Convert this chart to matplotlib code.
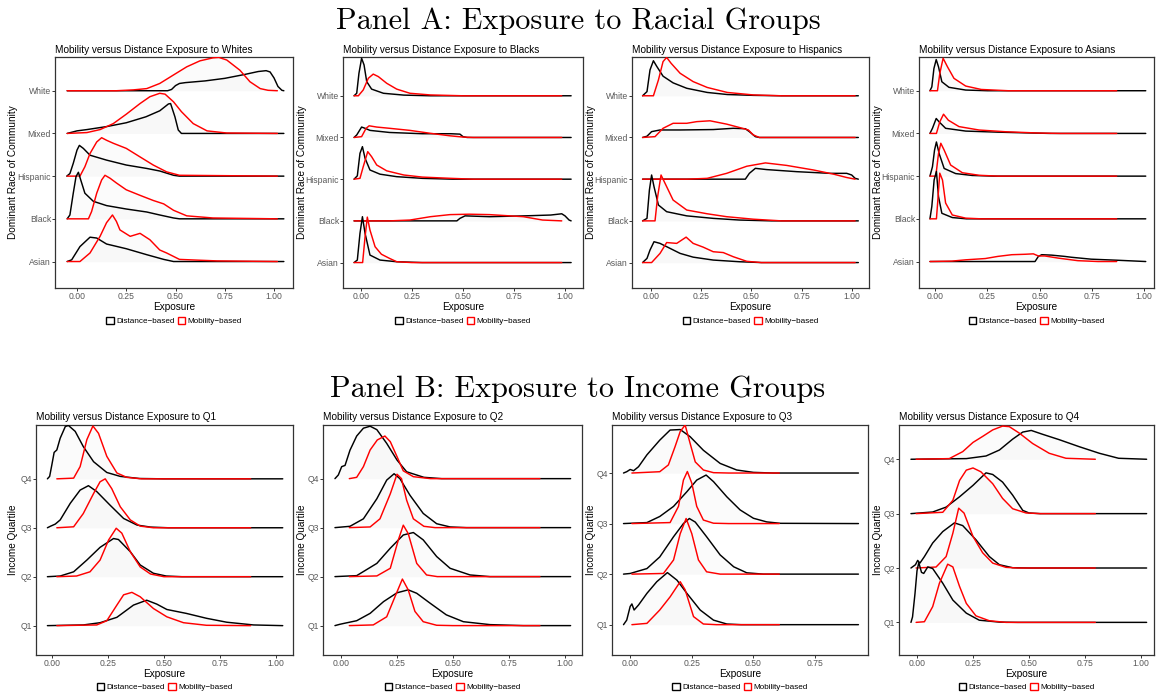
import matplotlib
matplotlib.use("Agg")
import matplotlib.pyplot as plt
from matplotlib.patches import Patch

plt.rcParams['font.family'] = ['Liberation Sans', 'DejaVu Sans']

# ---------------- data: (exposure, ridge height in row units) ----------------
RACE_ROWS = ['Asian', 'Black', 'Hispanic', 'Mixed', 'White']
QUART_ROWS = ['Q1', 'Q2', 'Q3', 'Q4']
X_TICKS = [0.0, 0.25, 0.5, 0.75, 1.0]
X_TICKS_Q3 = [0.0, 0.25, 0.5, 0.75]
LEGEND_LABELS = ['Distance\u2212based', 'Mobility\u2212based']

# Exposure to Whites
W_WHITE_D = [(-0.05,0),(0.46,0),(0.48,0.03),(0.50,0.12),(0.52,0.17),(0.55,0.19),(0.65,0.23),(0.75,0.29),(0.85,0.38),(0.92,0.45),(0.96,0.47),(0.98,0.44),(1.00,0.30),(1.02,0.10),(1.04,0.01),(1.05,0)]
W_WHITE_M = [(-0.05,0),(0.20,0),(0.286,0.02),(0.354,0.05),(0.42,0.17),(0.49,0.37),(0.557,0.56),(0.624,0.70),(0.69,0.77),(0.72,0.78),(0.76,0.72),(0.827,0.48),(0.878,0.21),(0.93,0.05),(0.97,0.01),(1.017,0)]
W_MIXED_D = [(-0.05,0),(0.0,0.06),(0.05,0.09),(0.15,0.16),(0.25,0.25),(0.35,0.39),(0.42,0.53),(0.464,0.69),(0.475,0.70),(0.497,0.39),(0.514,0.08),(0.53,0),(1.05,0)]
W_MIXED_M = [(-0.05,0),(0.05,0.02),(0.117,0.09),(0.184,0.23),(0.25,0.45),(0.32,0.70),(0.37,0.86),(0.42,0.94),(0.447,0.92),(0.49,0.74),(0.53,0.51),(0.59,0.23),(0.66,0.06),(0.76,0.01),(1.017,0)]
W_HISP_D = [(-0.052,0),(-0.036,0.06),(-0.019,0.30),(0.0,0.61),(0.012,0.72),(0.032,0.65),(0.066,0.49),(0.15,0.375),(0.25,0.26),(0.354,0.18),(0.42,0.12),(0.49,0.02),(0.52,0),(1.05,0)]
W_HISP_M = [(-0.05,0),(0.015,0),(0.04,0.22),(0.066,0.53),(0.10,0.80),(0.125,0.90),(0.15,0.84),(0.184,0.77),(0.25,0.65),(0.32,0.45),(0.387,0.26),(0.455,0.10),(0.52,0.02),(1.017,0)]
W_BLACK_D = [(-0.05,0),(-0.036,0.09),(-0.019,0.60),(-0.005,0.99),(0.007,1.09),(0.019,0.91),(0.04,0.60),(0.083,0.41),(0.15,0.31),(0.25,0.23),(0.354,0.16),(0.42,0.09),(0.49,0.02),(0.52,0),(1.05,0)]
W_BLACK_M = [(-0.05,0),(0.058,0),(0.074,0.17),(0.10,0.60),(0.125,0.91),(0.142,1.02),(0.168,0.95),(0.20,0.84),(0.25,0.68),(0.32,0.55),(0.387,0.43),(0.44,0.35),(0.49,0.20),(0.557,0.07),(0.69,0.02),(1.017,0)]
W_ASIAN_D = [(-0.05,0),(-0.027,0.04),(0.015,0.35),(0.066,0.57),(0.10,0.55),(0.15,0.41),(0.25,0.30),(0.354,0.16),(0.44,0.05),(0.49,0),(1.05,0)]
W_ASIAN_M = [(-0.05,0),(0.015,0),(0.066,0.20),(0.117,0.59),(0.15,0.91),(0.18,1.09),(0.20,0.94),(0.218,0.74),(0.27,0.59),(0.32,0.66),(0.37,0.51),(0.42,0.27),(0.455,0.20),(0.52,0.05),(0.625,0.03),(0.71,0.015),(1.017,0)]

# Exposure to Blacks
B_WHITE_D = [(-0.034,0),(-0.021,0.06),(-0.01,0.54),(0.003,0.90),(0.015,0.74),(0.028,0.34),(0.052,0.16),(0.11,0.06),(0.21,0.016),(0.34,0),(1.03,0)]
B_WHITE_M = [(-0.034,0),(-0.013,0),(0.011,0.14),(0.036,0.42),(0.06,0.52),(0.085,0.46),(0.126,0.30),(0.175,0.16),(0.24,0.06),(0.34,0.02),(0.50,0),(0.984,0)]
B_MIXED_D = [(-0.034,0),(-0.021,0.06),(0.003,0.25),(0.02,0.22),(0.044,0.17),(0.14,0.12),(0.30,0.09),(0.44,0.09),(0.485,0.08),(0.50,0.02),(0.52,0),(1.03,0)]
B_MIXED_M = [(-0.034,0),(0.003,0.02),(0.025,0.22),(0.04,0.28),(0.077,0.25),(0.14,0.22),(0.24,0.17),(0.34,0.10),(0.436,0.04),(0.50,0.01),(0.55,0),(0.984,0)]
B_HISP_D = [(-0.034,0),(-0.018,0.08),(-0.005,0.62),(0.007,0.78),(0.02,0.50),(0.044,0.22),(0.093,0.12),(0.175,0.06),(0.30,0.02),(0.45,0),(1.03,0)]
B_HISP_M = [(-0.034,0),(-0.005,0.02),(0.011,0.30),(0.033,0.66),(0.052,0.54),(0.077,0.34),(0.126,0.20),(0.21,0.10),(0.30,0.05),(0.44,0.02),(0.55,0),(0.984,0)]
B_BLACK_D = [(-0.034,0),(0.47,0),(0.485,0.06),(0.51,0.12),(0.63,0.10),(0.80,0.12),(0.93,0.14),(0.984,0.17),(1.0,0.12),(1.02,0.02),(1.03,0)]
B_BLACK_M = [(-0.034,0),(0.14,0),(0.24,0.02),(0.34,0.10),(0.436,0.15),(0.53,0.16),(0.63,0.15),(0.796,0.10),(0.89,0.02),(0.984,0)]
B_ASIAN_D = [(-0.034,0),(-0.018,0.06),(-0.005,0.70),(0.007,1.10),(0.02,0.70),(0.044,0.18),(0.093,0.06),(0.175,0.02),(0.30,0),(1.03,0)]
B_ASIAN_M = [(-0.034,0),(0.008,0),(0.02,0.62),(0.031,1.09),(0.044,0.78),(0.069,0.38),(0.10,0.20),(0.14,0.10),(0.175,0.02),(0.25,0),(0.984,0)]

# Exposure to Hispanics
H_WHITE_D = [(-0.042,0),(-0.02,0.10),(-0.005,0.62),(0.012,0.84),(0.028,0.71),(0.06,0.47),(0.11,0.31),(0.178,0.18),(0.28,0.08),(0.38,0.03),(0.51,0.01),(0.65,0),(1.033,0)]
H_WHITE_M = [(-0.042,0),(0.012,0),(0.037,0.38),(0.06,0.82),(0.078,0.92),(0.10,0.78),(0.145,0.54),(0.21,0.34),(0.28,0.20),(0.38,0.08),(0.51,0.02),(0.65,0),(1.017,0)]
H_MIXED_D = [(-0.042,0),(-0.02,0.03),(0.003,0.14),(0.045,0.18),(0.145,0.18),(0.31,0.19),(0.41,0.22),(0.47,0.21),(0.49,0.14),(0.52,0.02),(0.54,0),(1.033,0)]
H_MIXED_M = [(-0.042,0),(0.02,0.02),(0.06,0.22),(0.11,0.34),(0.178,0.34),(0.228,0.38),(0.294,0.40),(0.377,0.32),(0.44,0.24),(0.485,0.18),(0.51,0.06),(0.54,0),(1.017,0)]
H_HISP_D = [(-0.042,0),(0.47,0),(0.49,0.14),(0.52,0.26),(0.576,0.23),(0.726,0.18),(0.89,0.14),(0.975,0.14),(1.0,0.10),(1.017,0.02),(1.033,0)]
H_HISP_M = [(-0.042,0),(0.18,0),(0.28,0.02),(0.377,0.14),(0.477,0.31),(0.57,0.39),(0.676,0.33),(0.81,0.22),(0.91,0.12),(0.975,0.04),(1.017,0)]
H_BLACK_D = [(-0.042,0),(-0.02,0.06),(-0.008,0.74),(0.003,1.10),(0.015,0.82),(0.037,0.38),(0.078,0.22),(0.178,0.12),(0.31,0.06),(0.44,0.02),(0.60,0),(1.033,0)]
H_BLACK_M = [(-0.042,0),(0.02,0),(0.033,0.58),(0.05,1.10),(0.07,0.90),(0.11,0.50),(0.178,0.26),(0.28,0.17),(0.377,0.10),(0.51,0.04),(0.65,0),(1.017,0)]
H_ASIAN_D = [(-0.042,0),(-0.02,0.10),(-0.005,0.30),(0.015,0.50),(0.045,0.46),(0.095,0.34),(0.145,0.22),(0.21,0.13),(0.31,0.06),(0.44,0.02),(0.55,0),(1.033,0)]
H_ASIAN_M = [(-0.042,0),(0.003,0),(0.045,0.22),(0.078,0.48),(0.128,0.46),(0.175,0.61),(0.21,0.46),(0.26,0.37),(0.31,0.26),(0.36,0.24),(0.41,0.14),(0.477,0.03),(0.55,0),(1.017,0)]

# Exposure to Asians
S_WHITE_D = [(-0.025,0),(-0.016,0.09),(-0.006,0.52),(0.005,0.73),(0.016,0.56),(0.032,0.21),(0.066,0.08),(0.146,0.016),(0.25,0),(1.008,0)]
S_WHITE_M = [(-0.025,0),(0.011,0),(0.022,0.40),(0.038,0.76),(0.059,0.56),(0.09,0.29),(0.146,0.11),(0.22,0.03),(0.35,0),(0.869,0)]
S_MIXED_D = [(-0.025,0),(-0.013,0.12),(0.005,0.35),(0.019,0.27),(0.05,0.12),(0.146,0.055),(0.30,0.03),(0.46,0.01),(0.55,0),(1.008,0)]
S_MIXED_M = [(-0.025,0),(0.006,0),(0.022,0.27),(0.04,0.45),(0.063,0.31),(0.114,0.16),(0.21,0.08),(0.335,0.04),(0.49,0.01),(0.60,0),(0.869,0)]
S_HISP_D = [(-0.025,0),(-0.013,0.22),(-0.003,0.61),(0.006,0.80),(0.019,0.53),(0.043,0.18),(0.098,0.06),(0.177,0.016),(0.28,0),(1.008,0)]
S_HISP_M = [(-0.025,0),(0.003,0),(0.016,0.53),(0.027,0.77),(0.043,0.61),(0.074,0.26),(0.13,0.08),(0.21,0.02),(0.30,0),(0.869,0)]
S_BLACK_D = [(-0.025,0),(-0.016,0.29),(-0.005,0.91),(0.006,1.11),(0.016,0.52),(0.032,0.13),(0.082,0.03),(0.15,0),(1.008,0)]
S_BLACK_M = [(-0.025,0),(0.006,0),(0.013,0.45),(0.022,1.07),(0.035,0.91),(0.05,0.37),(0.082,0.09),(0.146,0.016),(0.22,0),(0.869,0)]
S_ASIAN_D = [(-0.025,0),(0.478,0),(0.494,0.12),(0.51,0.16),(0.557,0.15),(0.62,0.12),(0.652,0.10),(0.747,0.055),(0.873,0.03),(1.008,0)]
S_ASIAN_M = [(-0.025,0),(0.08,0.01),(0.146,0.04),(0.24,0.07),(0.30,0.12),(0.367,0.16),(0.43,0.17),(0.47,0.18),(0.494,0.13),(0.525,0.13),(0.589,0.08),(0.683,0.02),(0.78,0),(0.869,0)]

# Exposure to Q1
Q1_Q4_D = [(-0.02,0),(-0.01,0.05),(0.0,0.29),(0.01,0.54),(0.022,0.59),(0.037,0.83),(0.06,1.07),(0.074,1.09),(0.104,0.97),(0.14,0.66),(0.186,0.35),(0.245,0.13),(0.305,0.05),(0.39,0.007),(0.50,0),(1.03,0)]
Q1_Q4_M = [(0.022,0),(0.097,0.014),(0.126,0.25),(0.156,0.80),(0.183,1.08),(0.208,0.93),(0.245,0.46),(0.29,0.12),(0.334,0.03),(0.40,0),(0.887,0)]
Q1_Q3_D = [(-0.02,0),(-0.007,0.03),(0.015,0.075),(0.037,0.16),(0.082,0.50),(0.126,0.77),(0.163,0.86),(0.20,0.74),(0.26,0.46),(0.32,0.19),(0.38,0.055),(0.44,0.014),(0.52,0),(1.03,0)]
Q1_Q3_M = [(0.022,0),(0.097,0.02),(0.14,0.29),(0.186,0.70),(0.215,0.94),(0.238,1.00),(0.267,0.80),(0.305,0.43),(0.35,0.16),(0.394,0.034),(0.453,0),(0.887,0)]
Q1_Q2_D = [(-0.02,0),(0.037,0.014),(0.097,0.10),(0.156,0.34),(0.215,0.60),(0.275,0.78),(0.297,0.76),(0.35,0.51),(0.394,0.24),(0.453,0.07),(0.51,0.014),(0.58,0),(1.03,0)]
Q1_Q2_M = [(0.022,0),(0.11,0.014),(0.17,0.10),(0.215,0.34),(0.253,0.75),(0.287,0.99),(0.312,0.89),(0.35,0.51),(0.394,0.20),(0.44,0.055),(0.50,0),(0.887,0)]
Q1_Q1_D = [(-0.02,0),(0.14,0.014),(0.215,0.06),(0.29,0.17),(0.364,0.42),(0.423,0.52),(0.468,0.44),(0.513,0.33),(0.60,0.25),(0.69,0.15),(0.78,0.07),(0.90,0.014),(1.03,0)]
Q1_Q1_M = [(0.022,0),(0.20,0.014),(0.245,0.10),(0.29,0.42),(0.32,0.63),(0.357,0.68),(0.394,0.59),(0.453,0.35),(0.513,0.18),(0.587,0.06),(0.69,0.007),(0.887,0)]

# Exposure to Q2
Q2_Q4_D = [(-0.027,0),(-0.012,0.075),(0.003,0.245),(0.018,0.27),(0.04,0.58),(0.07,0.87),(0.10,1.03),(0.13,1.07),(0.16,1.00),(0.204,0.72),(0.25,0.38),(0.293,0.14),(0.37,0.027),(0.45,0),(1.025,0)]
Q2_Q4_M = [(0.037,0),(0.07,0.027),(0.10,0.245),(0.13,0.585),(0.162,0.79),(0.196,0.87),(0.22,0.755),(0.25,0.45),(0.278,0.16),(0.323,0.04),(0.40,0),(0.888,0)]
Q2_Q3_D = [(-0.027,0),(0.04,0.027),(0.10,0.18),(0.16,0.59),(0.204,0.97),(0.237,1.10),(0.263,1.00),(0.308,0.66),(0.367,0.29),(0.427,0.08),(0.487,0.014),(0.56,0),(1.025,0)]
Q2_Q3_M = [(0.037,0),(0.13,0.014),(0.174,0.18),(0.22,0.69),(0.25,1.09),(0.27,1.00),(0.293,0.56),(0.323,0.18),(0.37,0.027),(0.42,0),(0.888,0)]
Q2_Q2_D = [(-0.027,0),(0.07,0.02),(0.16,0.27),(0.22,0.58),(0.278,0.85),(0.323,0.90),(0.367,0.75),(0.427,0.41),(0.487,0.17),(0.576,0.034),(0.665,0),(1.025,0)]
Q2_Q2_M = [(0.037,0),(0.16,0.014),(0.22,0.17),(0.256,0.75),(0.278,1.05),(0.30,0.88),(0.338,0.27),(0.382,0.034),(0.43,0),(0.888,0)]
Q2_Q1_D = [(-0.027,0),(-0.005,0.027),(0.018,0.05),(0.07,0.10),(0.13,0.25),(0.19,0.49),(0.25,0.67),(0.30,0.73),(0.338,0.66),(0.397,0.46),(0.47,0.22),(0.546,0.08),(0.665,0.02),(0.814,0),(1.025,0)]
Q2_Q1_M = [(0.037,0),(0.144,0.014),(0.204,0.18),(0.241,0.59),(0.274,0.95),(0.30,0.73),(0.33,0.29),(0.367,0.08),(0.427,0.007),(0.50,0),(0.888,0)]

# Exposure to Q3
Q3_Q4_D = [(-0.027,0),(-0.014,0.026),(0.0,0.07),(0.014,0.046),(0.034,0.125),(0.068,0.36),(0.12,0.65),(0.162,0.85),(0.203,0.86),(0.243,0.72),(0.297,0.45),(0.365,0.19),(0.432,0.06),(0.50,0.013),(0.58,0),(0.926,0)]
Q3_Q4_M = [(0.007,0),(0.12,0.026),(0.155,0.16),(0.182,0.52),(0.203,0.82),(0.223,0.95),(0.243,0.59),(0.264,0.22),(0.297,0.06),(0.338,0.007),(0.40,0),(0.605,0)]
Q3_Q3_D = [(-0.027,0),(0.068,0.02),(0.12,0.14),(0.176,0.34),(0.23,0.63),(0.27,0.86),(0.308,0.96),(0.338,0.83),(0.392,0.53),(0.446,0.27),(0.50,0.105),(0.554,0.033),(0.61,0.005),(0.926,0)]
Q3_Q3_M = [(0.007,0),(0.162,0.02),(0.196,0.34),(0.216,0.86),(0.232,1.03),(0.25,0.80),(0.27,0.34),(0.297,0.07),(0.338,0.007),(0.40,0),(0.605,0)]
Q3_Q2_D = [(-0.027,0),(0.0,0.013),(0.068,0.11),(0.12,0.34),(0.176,0.74),(0.216,1.00),(0.24,1.10),(0.264,1.03),(0.31,0.74),(0.365,0.38),(0.42,0.145),(0.473,0.026),(0.54,0),(0.926,0)]
Q3_Q2_M = [(0.007,0),(0.135,0.013),(0.176,0.28),(0.203,0.80),(0.227,1.10),(0.25,0.80),(0.277,0.28),(0.31,0.046),(0.365,0),(0.605,0)]
Q3_Q1_D = [(-0.027,0),(-0.014,0.09),(0.0,0.36),(0.007,0.41),(0.016,0.29),(0.034,0.39),(0.068,0.62),(0.108,0.85),(0.151,1.03),(0.19,0.88),(0.23,0.62),(0.284,0.29),(0.338,0.09),(0.392,0.013),(0.45,0),(0.926,0)]
Q3_Q1_M = [(0.007,0),(0.068,0.026),(0.12,0.29),(0.162,0.55),(0.203,0.85),(0.223,0.69),(0.257,0.16),(0.297,0.013),(0.35,0),(0.605,0)]

# Exposure to Q4
Q4_Q4_D = [(-0.027,0),(0.22,0.012),(0.308,0.06),(0.368,0.17),(0.427,0.37),(0.472,0.50),(0.51,0.53),(0.56,0.46),(0.635,0.36),(0.725,0.23),(0.814,0.11),(0.90,0.018),(1.025,0)]
Q4_Q4_M = [(-0.004,0),(0.144,0.012),(0.204,0.14),(0.25,0.31),(0.293,0.42),(0.338,0.54),(0.382,0.61),(0.412,0.60),(0.457,0.48),(0.516,0.29),(0.59,0.11),(0.665,0.018),(0.796,0)]
Q4_Q3_D = [(-0.027,0),(0.07,0.03),(0.13,0.12),(0.19,0.31),(0.25,0.52),(0.308,0.75),(0.338,0.72),(0.382,0.58),(0.427,0.34),(0.472,0.06),(0.50,0.012),(0.55,0),(1.025,0)]
Q4_Q3_M = [(-0.004,0),(0.115,0.025),(0.16,0.245),(0.19,0.61),(0.22,0.80),(0.25,0.84),(0.285,0.77),(0.338,0.55),(0.382,0.28),(0.427,0.09),(0.487,0.012),(0.55,0),(0.796,0)]
Q4_Q2_D = [(-0.027,0),(-0.007,0.06),(0.003,0.14),(0.013,0.09),(0.033,0.21),(0.07,0.46),(0.115,0.67),(0.167,0.83),(0.204,0.78),(0.263,0.52),(0.323,0.21),(0.368,0.06),(0.427,0.005),(0.50,0),(1.025,0)]
Q4_Q2_M = [(-0.004,0),(0.085,0.018),(0.13,0.21),(0.16,0.64),(0.186,1.10),(0.21,1.01),(0.25,0.58),(0.293,0.28),(0.338,0.09),(0.397,0.012),(0.45,0),(0.796,0)]
Q4_Q1_D = [(-0.027,0),(-0.02,0.10),(-0.009,0.53),(0.0,0.95),(0.008,1.10),(0.02,0.92),(0.03,0.90),(0.048,1.02),(0.07,0.99),(0.115,0.72),(0.16,0.41),(0.22,0.17),(0.278,0.04),(0.368,0.005),(0.45,0),(1.025,0)]
Q4_Q1_M = [(-0.004,0),(0.033,0.012),(0.07,0.29),(0.10,0.72),(0.137,1.07),(0.16,1.02),(0.19,0.66),(0.22,0.35),(0.263,0.12),(0.323,0.03),(0.397,0),(0.796,0)]

# ---------------- layout ----------------
W, H = 1156, 698
fig = plt.figure(figsize=(W / 100, H / 100), dpi=100)
fig.patch.set_facecolor('white')

panels = [
    ('Mobility versus Distance Exposure to Whites', RACE_ROWS,
     [(W_ASIAN_D, W_ASIAN_M), (W_BLACK_D, W_BLACK_M), (W_HISP_D, W_HISP_M), (W_MIXED_D, W_MIXED_M), (W_WHITE_D, W_WHITE_M)],
     (55, 57, 293, 288), (-0.1117, 1.0964), (0.38, 5.79), 13, X_TICKS, 'Dominant Race of Community'),
    ('Mobility versus Distance Exposure to Blacks', RACE_ROWS,
     [(B_ASIAN_D, B_ASIAN_M), (B_BLACK_D, B_BLACK_M), (B_HISP_D, B_HISP_M), (B_MIXED_D, B_MIXED_M), (B_WHITE_D, B_WHITE_M)],
     (343, 57, 583, 288), (-0.0882, 1.0882), (0.39, 5.93), 302, X_TICKS, 'Dominant Race of Community'),
    ('Mobility versus Distance Exposure to Hispanics', RACE_ROWS,
     [(H_ASIAN_D, H_ASIAN_M), (H_BLACK_D, H_BLACK_M), (H_HISP_D, H_HISP_M), (H_MIXED_D, H_MIXED_M), (H_WHITE_D, H_WHITE_M)],
     (632, 57, 869, 288), (-0.0947, 1.0862), (0.39, 5.93), 591, X_TICKS, 'Dominant Race of Community'),
    ('Mobility versus Distance Exposure to Asians', RACE_ROWS,
     [(S_ASIAN_D, S_ASIAN_M), (S_BLACK_D, S_BLACK_M), (S_HISP_D, S_HISP_M), (S_MIXED_D, S_MIXED_M), (S_WHITE_D, S_WHITE_M)],
     (919, 57, 1154, 288), (-0.0774, 1.0475), (0.38, 5.79), 878, X_TICKS, 'Dominant Race of Community'),
    ('Mobility versus Distance Exposure to Q1', QUART_ROWS,
     [(Q1_Q1_D, Q1_Q1_M), (Q1_Q2_D, Q1_Q2_M), (Q1_Q3_D, Q1_Q3_M), (Q1_Q4_D, Q1_Q4_M)],
     (36, 425, 293, 655), (-0.0709, 1.0758), (0.4, 5.1), 13, X_TICKS, 'Income Quartile'),
    ('Mobility versus Distance Exposure to Q2', QUART_ROWS,
     [(Q2_Q1_D, Q2_Q1_M), (Q2_Q2_D, Q2_Q2_M), (Q2_Q3_D, Q2_Q3_M), (Q2_Q4_D, Q2_Q4_M)],
     (323, 425, 582, 655), (-0.0804, 1.0759), (0.4, 5.095), 302, X_TICKS, 'Income Quartile'),
    ('Mobility versus Distance Exposure to Q3', QUART_ROWS,
     [(Q3_Q1_D, Q3_Q1_M), (Q3_Q2_D, Q3_Q2_M), (Q3_Q3_D, Q3_Q3_M), (Q3_Q4_D, Q3_Q4_M)],
     (612, 425, 868, 655), (-0.0737, 0.9648), (0.4, 4.95), 591, X_TICKS_Q3, 'Income Quartile'),
    ('Mobility versus Distance Exposure to Q4', QUART_ROWS,
     [(Q4_Q1_D, Q4_Q1_M), (Q4_Q2_D, Q4_Q2_M), (Q4_Q3_D, Q4_Q3_M), (Q4_Q4_D, Q4_Q4_M)],
     (899, 425, 1154, 655), (-0.0804, 1.0580), (0.4, 4.63), 878, X_TICKS, 'Income Quartile'),
]

FRAME = '#333333'
TICKTXT = '#595959'

for i, (title, rows, curves, box, xlim, ylim, ylab_x, xticks, ylab) in enumerate(panels):
    x0, y0, x1, y1 = box
    ax = fig.add_axes([x0 / W, 1 - y1 / H, (x1 - x0) / W, (y1 - y0) / H])
    ax.set_xlim(*xlim)
    ax.set_ylim(*ylim)
    nrow = len(rows)
    for r in range(nrow - 1, -1, -1):
        base = r + 1
        z = 10 + (nrow - r) * 3
        for pts, col in ((curves[r][0], 'black'), (curves[r][1], '#FF0000')):
            xs = [p[0] for p in pts]
            ys = [base + p[1] for p in pts]
            ax.fill_between(xs, base, ys, color='#F2F2F2', alpha=0.3, lw=0, zorder=z)
            ax.plot(xs, ys, color=col, lw=1.05, solid_joinstyle='round',
                    solid_capstyle='round', zorder=z + 1)
    ax.set_yticks(range(1, nrow + 1))
    ax.set_yticklabels(rows)
    ax.set_xticks(xticks)
    ax.set_xticklabels(['%.2f' % t for t in xticks])
    ax.tick_params(axis='both', length=2.0, width=0.7, color=FRAME, labelcolor=TICKTXT,
                   labelsize=6.2, pad=0.8)
    for s in ax.spines.values():
        s.set_color(FRAME)
        s.set_linewidth(0.9)
    ty = 50 if i < 4 else 417
    fig.text(x0 / W, 1 - ty / H, title, fontsize=7.2, ha='left', va='center', color='black')
    ly = (y0 + y1) / 2
    fig.text(ylab_x / W, 1 - ly / H, ylab, rotation=90, fontsize=7.2, ha='center', va='center')
    cx = (x0 + x1) / 2
    xly = 307 if i < 4 else 674
    fig.text(cx / W, 1 - xly / H, 'Exposure', fontsize=7.2, ha='center', va='center')
    legy = 321 if i < 4 else 687
    handles = [Patch(facecolor='white', edgecolor='black', linewidth=1.0),
               Patch(facecolor='white', edgecolor='#FF0000', linewidth=1.0)]
    fig.legend(handles, LEGEND_LABELS, loc='center', bbox_to_anchor=(cx / W, 1 - legy / H),
               ncol=2, frameon=False, fontsize=5.9, handlelength=0.9, handleheight=0.9,
               handletextpad=0.3, columnspacing=0.4, borderpad=0, borderaxespad=0)

fig.text(0.5, 1 - 21 / H, 'Panel A: Exposure to Racial Groups', family='cmr10', fontsize=21.8,
         ha='center', va='center')
fig.text(0.5, 1 - 389 / H, 'Panel B: Exposure to Income Groups', family='cmr10', fontsize=21.8,
         ha='center', va='center')

fig.savefig('out.png', dpi=100)
